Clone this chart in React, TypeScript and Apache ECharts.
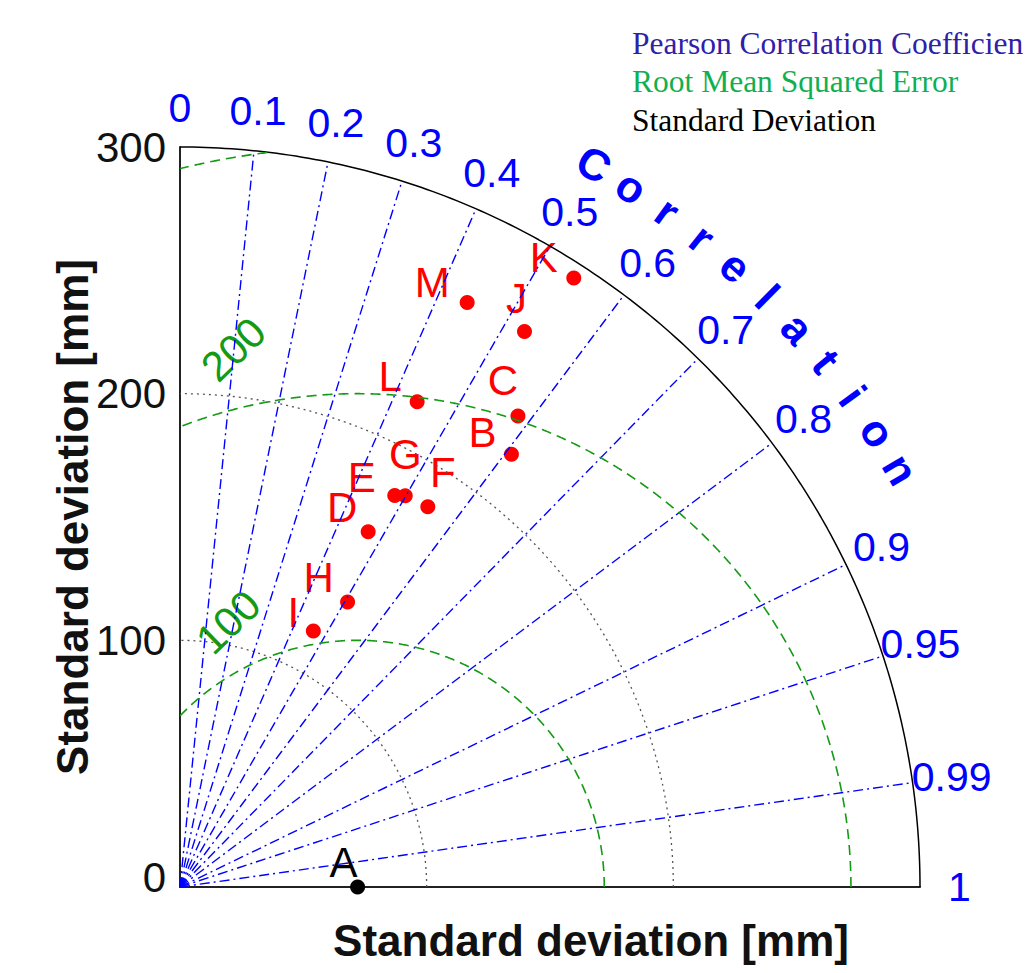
import React, { useEffect, useRef } from 'react';
import * as echarts from 'echarts';

// ---------------- data ----------------
const modelNames = ['A', 'B', 'C', 'D', 'E', 'F', 'G', 'H', 'I', 'J', 'K', 'L', 'M'];
const modelStd = [72, 221, 235, 163, 181, 184, 183, 134, 117, 265, 294, 219, 264];
const modelCorr = [1, 0.608, 0.583, 0.468, 0.481, 0.546, 0.499, 0.507, 0.462, 0.527, 0.543, 0.439, 0.441];

const stdMax = 300;
const stdTicks = [0, 100, 200, 300];
const stdArcs = [100, 200];
const corrLines = [0.1, 0.2, 0.3, 0.4, 0.5, 0.6, 0.7, 0.8, 0.9, 0.95, 0.99];
const corrTicks = [0, 0.1, 0.2, 0.3, 0.4, 0.5, 0.6, 0.7, 0.8, 0.9, 0.95, 0.99, 1];
const corrTickLabels = ['0', '0.1', '0.2', '0.3', '0.4', '0.5', '0.6', '0.7', '0.8', '0.9', '0.95', '0.99', '1'];
const rmsArcs = [100, 200, 300];
const rmsLabelValues = [100, 200];
const corrTitle = 'Correlation';
const axisTitle = 'Standard deviation [mm]';
const legendTexts = ['Pearson Correlation Coefficien', 'Root Mean Squared Error', 'Standard Deviation'];

// ---------------- styles / layout ----------------
const SANS = 'Liberation Sans, Arial, Helvetica, sans-serif';
const SERIF = 'Liberation Serif, Times New Roman, serif';
const BLUE = '#0000ff';
const GREEN = '#149a14';
const labelOffsets: number[][] = [
  [-14, -25], [-29, -22], [-15, -36], [-26, -24], [-33, -18], [15, -34], [0, -41],
  [-29, -25], [-20, -19], [-8, -33], [-30, -21], [-27, -25], [-35, -20],
];
const legendColors = ['#3020a8', '#10b050', '#000000'];
const rmsLabelPlacement = [
  { phi: 116, dr: 19.5 }, // for 100
  { phi: 103, dr: 23.7 }, // for 200
];
const corrLabelRadius = 316;
const corrTitleRadius = 337.7;

const polar = (r: number, c: number) => [r * c, r * Math.sqrt(Math.max(0, 1 - c * c))];
const deg = Math.PI / 180;

function arcData(r: number) {
  const pts: number[][] = [];
  for (let i = 0; i <= 180; i++) {
    const a = (i / 180) * 90 * deg;
    pts.push([r * Math.cos(a), r * Math.sin(a)]);
  }
  return pts;
}

function rmsArcData(R: number, ref: number) {
  const pts: number[][] = [];
  for (let i = 0; i <= 1440; i++) {
    const a = (i / 1440) * Math.PI;
    const x = ref + R * Math.cos(a);
    const y = R * Math.sin(a);
    if (x >= -0.01 && x * x + y * y <= stdMax * stdMax + 0.5) pts.push([x, y]);
  }
  return pts;
}

function buildOption() {
  const refStd = modelStd[0];
  const series: any[] = [];

  // outer arc
  series.push({
    type: 'line', data: arcData(stdMax), showSymbol: false, clip: false, silent: true,
    lineStyle: { color: '#000', width: 1.5 },
  });
  // std dev dotted arcs
  stdArcs.forEach((r) =>
    series.push({
      type: 'line', data: arcData(r), showSymbol: false, clip: false, silent: true,
      lineStyle: { color: '#555', width: 1.3, type: [2, 4] },
    })
  );
  // correlation lines
  corrLines.forEach((c) =>
    series.push({
      type: 'line', data: [[0, 0], polar(stdMax, c)], showSymbol: false, clip: false, silent: true,
      lineStyle: { color: BLUE, width: 1.4, type: [10, 4, 2, 4], opacity: 1 },
    })
  );
  // RMS arcs
  rmsArcs.forEach((R) =>
    series.push({
      type: 'line', data: rmsArcData(R, refStd), showSymbol: false, clip: false, silent: true,
      lineStyle: { color: GREEN, width: 1.6, type: [10, 6] },
    })
  );
  // RMS labels
  series.push({
    type: 'scatter', symbolSize: 0, clip: false, silent: true,
    itemStyle: { opacity: 1 },
    data: rmsLabelValues.map((v, i) => {
      const p = rmsLabelPlacement[i];
      const r = v + p.dr;
      return { value: [refStd + r * Math.cos(p.phi * deg), r * Math.sin(p.phi * deg)], name: String(v) };
    }),
    label: {
      show: true, position: 'inside', formatter: '{b}', rotate: 44,
      color: GREEN, fontSize: 42, fontFamily: SANS, align: 'center', verticalAlign: 'middle',
    },
  });
  // correlation tick labels
  series.push({
    type: 'scatter', symbolSize: 0, clip: false, silent: true,
    itemStyle: { opacity: 1 },
    data: corrTicks.map((c, i) => ({ value: polar(corrLabelRadius, c), name: corrTickLabels[i] })),
    label: {
      show: true, position: 'inside', formatter: '{b}',
      color: BLUE, fontSize: 41, fontFamily: SANS, align: 'center', verticalAlign: 'middle',
    },
  });
  // correlation title along the arc
  const letters = corrTitle.split('');
  series.push({
    type: 'scatter', symbolSize: 0, clip: false, silent: true,
    itemStyle: { opacity: 1 },
    data: letters.map((ch, i) => {
      const th = 60.2 - 3.01 * i;
      return {
        value: [corrTitleRadius * Math.cos(th * deg), corrTitleRadius * Math.sin(th * deg)],
        name: ch,
        label: { rotate: th - 90 },
      };
    }),
    label: {
      show: true, position: 'inside', formatter: '{b}',
      color: BLUE, fontSize: 44, fontWeight: 'bold', fontFamily: SANS, align: 'center', verticalAlign: 'middle',
    },
  });
  // model points
  series.push({
    type: 'scatter', symbol: 'circle', symbolSize: 15, clip: false,
    itemStyle: { opacity: 1 },
    data: modelNames.map((n, i) => ({
      value: polar(modelStd[i], modelCorr[i]),
      name: n,
      itemStyle: { color: i === 0 ? '#000' : '#ff0000', opacity: 1 },
      label: { offset: labelOffsets[i], color: i === 0 ? '#000' : '#ff0000' },
    })),
    label: {
      show: true, position: 'inside', formatter: '{b}',
      fontSize: 42, fontFamily: SANS, align: 'center', verticalAlign: 'middle',
    },
  });

  return {
    animation: false,
    backgroundColor: '#fff',
    grid: { left: 180, top: 147, width: 740, height: 740 },
    xAxis: {
      type: 'value', min: 0, max: stdMax, interval: 100,
      axisLine: { show: true, lineStyle: { color: '#222', width: 2 } },
      axisTick: { show: false }, axisLabel: { show: false }, splitLine: { show: false },
    },
    yAxis: {
      type: 'value', min: 0, max: stdMax, interval: 100,
      axisLine: { show: true, lineStyle: { color: '#222', width: 2 } },
      axisTick: { show: false }, splitLine: { show: false },
      axisLabel: {
        show: true, margin: 14, color: '#111', fontSize: 42, fontFamily: SANS,
        formatter: (v: number) => (v === 0 ? '{z|0}' : stdTicks.includes(v) ? String(v) : ''),
        rich: { z: { fontSize: 42, fontFamily: SANS, color: '#111', padding: [0, 0, 20, 0] } },
      },
    },
    graphic: [
      {
        type: 'text', x: 591, y: 940,
        style: { text: axisTitle, fill: '#111', font: `bold 44px ${SANS}`, textAlign: 'center', textVerticalAlign: 'middle' },
      },
      {
        type: 'text', x: 72, y: 517, rotation: Math.PI / 2,
        style: { text: axisTitle, fill: '#111', font: `bold 44px ${SANS}`, textAlign: 'center', textVerticalAlign: 'middle' },
      },
      ...legendTexts.map((t, i) => ({
        type: 'text', x: 632, y: 43 + 38.5 * i,
        style: { text: t, fill: legendColors[i], font: `31.5px ${SERIF}`, textAlign: 'left', textVerticalAlign: 'middle' },
      })),
    ],
    series,
  };
}

export default function App() {
  const ref = useRef<HTMLDivElement>(null);
  useEffect(() => {
    if (!ref.current) return;
    const chart = echarts.init(ref.current, null, { renderer: 'svg' });
    chart.setOption(buildOption() as any);
    return () => chart.dispose();
  }, []);
  return (
    <div
      ref={ref}
      style={{ position: 'fixed', left: 0, top: 0, width: 1028, height: 973, background: '#fff' }}
    />
  );
}
